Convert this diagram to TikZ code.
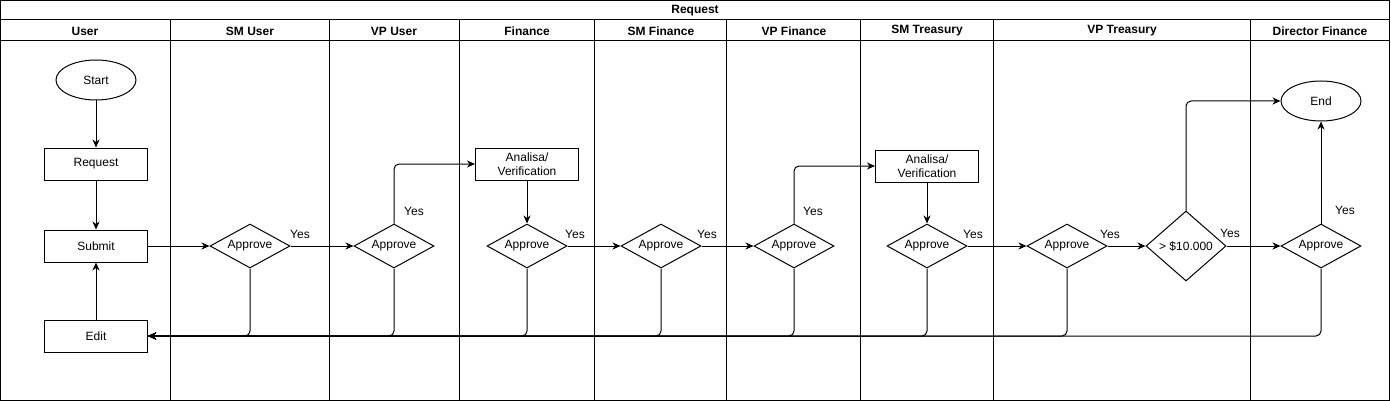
\documentclass[tikz,border=0pt]{standalone}
\usepackage{fontspec}
\setmainfont{Liberation Sans}
\usetikzlibrary{shapes.geometric,arrows.meta}
\begin{document}
\begin{tikzpicture}[x=1pt,y=-1pt,
  every node/.style={font=\fontsize{12}{14}\selectfont},
  hdr/.style={font=\fontsize{12}{14}\selectfont\bfseries},
  procbox/.style={draw,line width=1pt,rectangle,minimum width=103,minimum height=32,inner sep=0,align=center},
  term/.style={draw,line width=1pt,ellipse,minimum width=80,minimum height=40,inner sep=0},
  decide/.style={draw,line width=1pt,diamond,aspect=1.82,minimum width=80,minimum height=44,inner sep=0},
  lbl/.style={inner sep=0},
  arr/.style={draw,line width=1pt,-{Stealth[length=8pt,width=7pt,inset=2.5pt]}},
  back/.style={arr,rounded corners=5pt},
  lane/.style={line width=1pt}]
\useasboundingbox (0,0) rectangle (1391,401);
% pool
\draw[lane] (0.5,0.5) rectangle (1389.5,400);
\draw[lane] (0.5,20) -- (1389.5,20);
\draw[lane] (0.5,40.5) -- (1389.5,40.5);
\foreach \xx in {170.5,329.5,459.5,594.5}{\draw[lane] (\xx,20) -- (\xx,400);}
\foreach \xx in {726.5,993.5}{\draw[line width=1.6pt] (\xx,20) -- (\xx,400);}
\foreach \xx in {860.5,1250}{\draw[lane] (\xx,20) -- (\xx,400);}
\node[hdr] (title) at (695,11) {Request};
\node[hdr] (h1) at (85,31) {User};
\node[hdr] (h2) at (250,31) {SM User};
\node[hdr] (h3) at (394,31) {VP User};
\node[hdr] (h4) at (527,31) {Finance};
\node[hdr] (h5) at (661,31) {SM Finance};
\node[hdr] (h6) at (794,31) {VP Finance};
\node[hdr] (h7) at (927,31) {SM Treasury};
\node[hdr] (h8) at (1122,31) {VP Treasury};
\node[hdr] (h9) at (1320,31) {Director Finance};
% nodes
\node[term] (start) at (96,80) {\raisebox{-1pt}{Start}};
\node[procbox] (req) at (96,164) {\raisebox{-1pt}{Request}};
\node[procbox] (sub) at (96,246) {\raisebox{-1pt}{Submit}};
\node[procbox] (edit) at (96,336) {\raisebox{-1pt}{Edit}};
\node[decide] (d1) at (250,246) {\raisebox{-1pt}{Approve}};
\node[decide] (d2) at (394,246) {\raisebox{-1pt}{Approve}};
\node[procbox] (ana1) at (527,164) {Analisa/\\Verification};
\node[decide] (d3) at (527,246) {\raisebox{-1pt}{Approve}};
\node[decide] (d4) at (661,246) {\raisebox{-1pt}{Approve}};
\node[decide] (d5) at (794,246) {\raisebox{-1pt}{Approve}};
\node[procbox] (ana2) at (927,166) {Analisa/\\Verification};
\node[decide] (d6) at (927,246) {\raisebox{-1pt}{Approve}};
\node[decide] (d7) at (1067,246) {\raisebox{-1pt}{Approve}};
\node[decide,aspect=1.14,minimum height=70] (d8) at (1186,246) {\raisebox{-1pt}{> \$10.000}};
\node[decide] (d9) at (1321,246) {\raisebox{-1pt}{Approve}};
\node[term] (end) at (1321,101) {\raisebox{-1pt}{End}};
% connectors
\draw[arr] (start) -- (req);
\draw[arr] (req) -- (sub);
\draw[arr] (edit) -- (sub);
\draw[arr] (sub) -- (d1);
\draw[arr] (d1) -- (d2);
\draw[back] (d2.north) |- (ana1.west);
\draw[arr] (ana1) -- (d3);
\draw[arr] (d3) -- (d4);
\draw[arr] (d4) -- (d5);
\draw[back] (d5.north) |- (ana2.west);
\draw[arr] (ana2) -- (d6);
\draw[arr] (d6) -- (d7);
\draw[arr] (d7) -- (d8);
\draw[arr] (d8) -- (d9);
\draw[back] (d8.north) |- (end.west);
\draw[arr] (d9) -- (end);
\foreach \d in {d1,d2,d3,d4,d5,d6,d7,d9}{\draw[back] (\d.south) |- (edit.east);}
% labels
\node[lbl] (y1) at (300,234) {Yes};
\node[lbl] (y2) at (414,211) {Yes};
\node[lbl] (y3) at (575,234) {Yes};
\node[lbl] (y4) at (707,234) {Yes};
\node[lbl] (y5) at (813,211) {Yes};
\node[lbl] (y6) at (973,234) {Yes};
\node[lbl] (y7) at (1110,234) {Yes};
\node[lbl] (y8) at (1230,233) {Yes};
\node[lbl] (y9) at (1345,210) {Yes};
\end{tikzpicture}
\end{document}
